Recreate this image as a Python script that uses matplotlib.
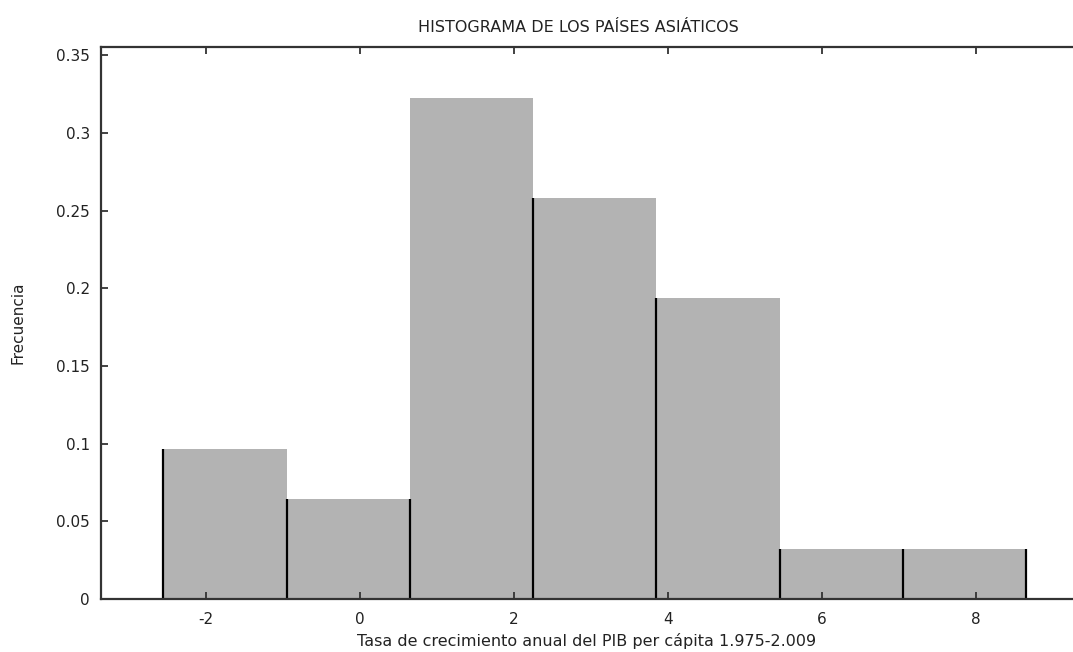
import numpy as np
import matplotlib.pyplot as plt

# histogram bins (class edges) and relative frequencies, 31 countries
edges = [-2.55, -0.95, 0.65, 2.25, 3.85, 5.45, 7.05, 8.65]
freqs = [3/31, 2/31, 10/31, 8/31, 6/31, 1/31, 1/31]
xticks = [-2, 0, 2, 4, 6, 8]
xticklabels = ['-2', '0', '2', '4', '6', '8']
yticks = [0, 0.05, 0.1, 0.15, 0.2, 0.25, 0.3, 0.35]
yticklabels = ['0', '0.05', '0.1', '0.15', '0.2', '0.25', '0.3', '0.35']

fig = plt.figure(figsize=(10.73, 6.52), dpi=100)
ax = fig.add_axes([101/1073, 53/652, 1 - 101/1073, 552/652])

lefts = np.array(edges[:-1])
widths = np.diff(edges)
ax.bar(lefts, freqs, width=widths, align='edge', color='#b3b3b3', linewidth=0)

# black edge lines, up to the lower of the two neighbouring bars
h = [0] + freqs + [0]
tops = [min(h[i], h[i + 1]) if 0 < i < len(edges) - 1 else max(h[i], h[i + 1])
        for i in range(len(edges))]
ax.vlines(edges, 0, tops, colors='black', linewidth=1.6)

ax.set_xlim(-3.36, 9.26)
ax.set_ylim(0, 0.3554)
ax.set_xticks(xticks)
ax.set_xticklabels(xticklabels)
ax.set_yticks(yticks)
ax.set_yticklabels(yticklabels)

for side in ['left', 'top', 'bottom']:
    ax.spines[side].set_color('#333333')
    ax.spines[side].set_linewidth(1.6)
ax.spines['right'].set_visible(False)
ax.tick_params(direction='in', length=5, width=1.3, color='#333333',
               top=True, labelsize=11, labelcolor='#222222')
ax.tick_params(axis='x', pad=9)
ax.tick_params(axis='y', pad=8)

ax.set_xlabel('Tasa de crecimiento anual del PIB per cápita 1.975-2.009',
              fontsize=11.5, labelpad=5, color='#222222')
ax.set_ylabel('Frecuencia', fontsize=11, labelpad=22, color='#222222')
fig.text(578/1073, 1 - 27/652, 'HISTOGRAMA DE LOS PAÍSES ASIÁTICOS',
         ha='center', va='center', fontsize=11.5, color='#222222')

fig.savefig('out.png', dpi=100)
